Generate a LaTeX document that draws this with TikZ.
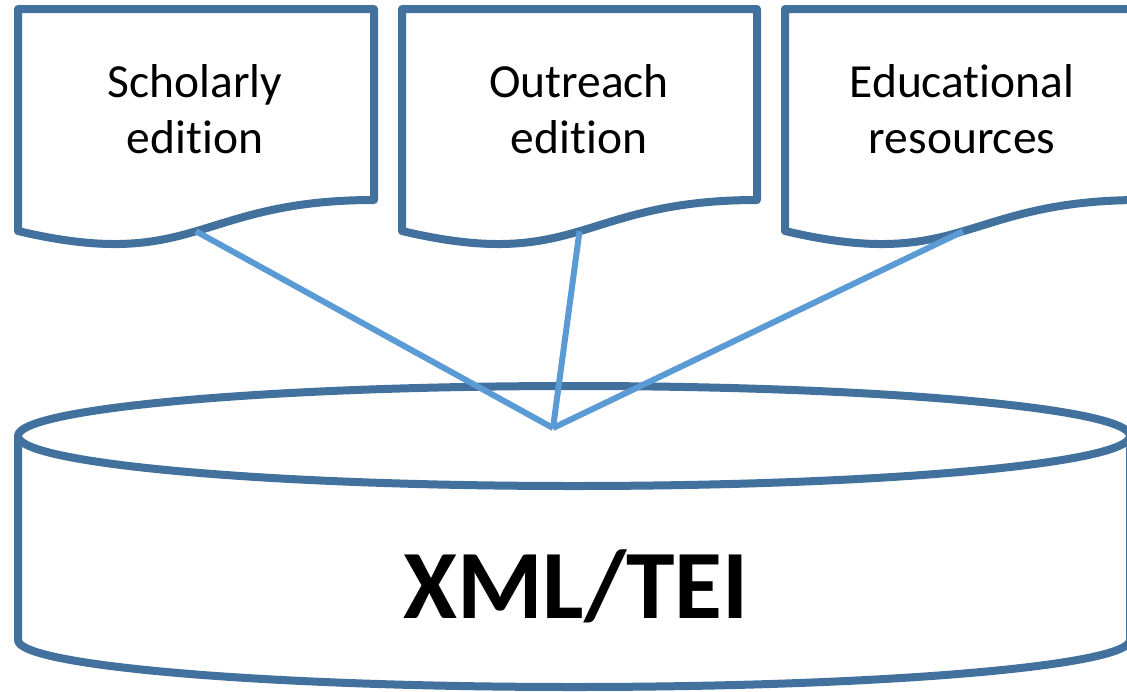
\documentclass[tikz,border=0pt]{standalone}
\usepackage{fontspec}
\setmainfont{Carlito}[Ligatures=NoCommon]
\definecolor{edgeblue}{HTML}{41719C}
\definecolor{linkblue}{HTML}{5B9BD5}
\begin{document}
\begin{tikzpicture}[x=1pt,y=-1pt,
  outline/.style={draw=edgeblue,line width=8pt,fill=white,line join=round},
  connector/.style={draw=linkblue,line width=6pt},
  doclabel/.style={font=\fontsize{47.5}{56}\selectfont,align=center,text=black,inner sep=0pt},
  dblabel/.style={font=\bfseries\fontsize{98}{110}\selectfont,text=black,inner sep=0pt}]
\useasboundingbox (0,0) rectangle (1127,691);

% database cylinder: body with lower rim, then the top ellipse
\path[outline] (18,436) -- (18,640) arc[start angle=180,end angle=0,x radius=556,y radius=47]
  -- (1130,436) -- cycle;
\path[outline] (574,436) ellipse[x radius=556,y radius=50];
\node[dblabel,anchor=base] (db) at (576,618) {XML/TEI};
\coordinate (hub) at (553,428);

% document shapes with wavy lower edge
\path[outline] (18,9) -- (374,9) -- (374,200) .. controls (196,200) and (196,273) .. (18,231) -- cycle;
\coordinate (s1) at (196,231.3);
\path[outline] (402,9) -- (757,9) -- (757,200) .. controls (579.5,200) and (579.5,273) .. (402,231) -- cycle;
\coordinate (s2) at (579.5,231.3);
\path[outline] (785,9) -- (1141,9) -- (1141,200) .. controls (963,200) and (963,273) .. (785,231) -- cycle;
\coordinate (s3) at (963,231.3);

% labels (base anchor sits on the last line)
\node[doclabel,anchor=base] (d1) at (195,153) {Scholarly\\edition};
\node[doclabel,anchor=base] (d2) at (579,153) {Outreach\\edition};
\node[doclabel,anchor=base] (d3) at (962,153) {Educational\\resources};

% connectors from each document to the repository
\draw[connector] (s1) -- (hub);
\draw[connector] (s2) -- (hub);
\draw[connector] (s3) -- (hub);
\end{tikzpicture}
\end{document}
